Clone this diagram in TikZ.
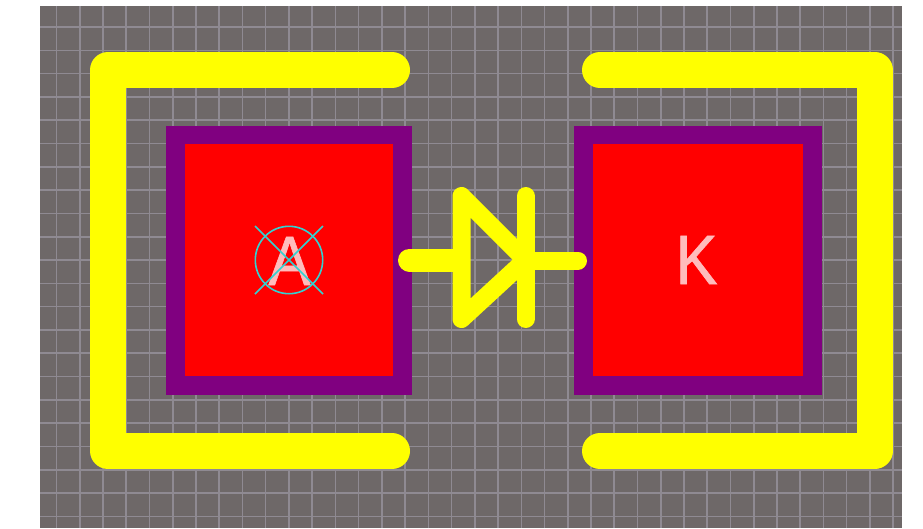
\documentclass[tikz,border=0pt]{standalone}
\usepackage{fontspec}
\setmainfont{Liberation Sans}
\newfontfamily\padfont[FakeBold=1]{Liberation Sans}
\definecolor{boardbg}{RGB}{110,104,104}
\definecolor{gridline}{RGB}{143,138,146}
\definecolor{silk}{RGB}{255,255,0}
\definecolor{padring}{RGB}{128,0,128}
\definecolor{padcore}{RGB}{255,0,0}
\definecolor{padtext}{RGB}{255,188,188}
\definecolor{origin}{RGB}{50,210,210}
\tikzset{
  x=1pt,y=-1pt,
  silktrace/.style={draw=silk,line width=36pt,line cap=round,line join=round},
  diodetrace/.style={draw=silk,line width=18pt,line cap=round,line join=round},
  padlabel/.style={text=padtext,font=\padfont\fontsize{70}{70}\selectfont,inner sep=0pt,anchor=center,xscale=0.9},
  originmark/.style={draw=origin,line width=1.6pt},
}
\begin{document}
\begin{tikzpicture}
\useasboundingbox (0,0) rectangle (923,528);
\fill[boardbg] (40,6) rectangle (902,528);
% grid
\foreach \i in {0,...,36} \draw[gridline,line width=1.6pt] ({56.5+\i*23.24},6) -- ({56.5+\i*23.24},528);
\foreach \j in {0,...,21} \draw[gridline,line width=1.6pt] (40,{27+\j*23.3}) -- (902,{27+\j*23.3});
% pads
\fill[padring] (166,126) rectangle (412,395);
\fill[padcore] (185,144) rectangle (393,376);
\fill[padring] (574,126) rectangle (822,395);
\fill[padcore] (593,144) rectangle (803,376);
% outline
\draw[silktrace] (392,70) -- (108,70) -- (108,451) -- (392,451);
\draw[silktrace] (600,70) -- (874.5,70) -- (874.5,451) -- (600,451);
% diode
\draw[draw=silk,line width=23pt,line cap=round] (409.5,260) -- (455,260);
\draw[draw=silk,line width=18pt,line cap=round] (532,260.5) -- (578,260.5);
\draw[diodetrace] (461.5,319) -- (461.5,196) -- (525.5,260) -- cycle;
\draw[diodetrace] (525.5,196) -- (525.5,319);
% labels
\node[padlabel] (labelA) at (289.5,261) {A};
\node[padlabel] (labelK) at (696.5,260) {K};
% origin mark
\draw[originmark] (289,260) circle (33.7);
\draw[originmark] (255,226) -- (323,294);
\draw[originmark] (323,226) -- (255,294);
\end{tikzpicture}
\end{document}
